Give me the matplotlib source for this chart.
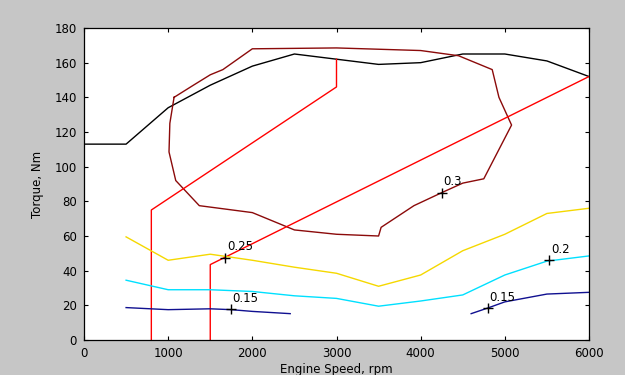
import matplotlib
matplotlib.use("Agg")
import matplotlib.pyplot as plt

# Maximum torque curve
max_rpm = [0, 500, 1000, 1500, 2000, 2500, 3000, 3500, 4000, 4500, 5000, 5500, 6000]
max_tq = [113, 113, 134, 147, 158, 165, 162, 159, 160, 165, 165, 161, 152]

# Closed 0.3 efficiency island
loop_rpm = [1070, 1300, 1500, 1650, 2000, 3000, 4000, 4450, 4850, 4930, 5080,
            4750, 4500, 4250, 3920, 3530, 3500, 3000, 2500, 2000, 1370, 1090,
            1010, 1020, 1070]
loop_tq = [140, 147, 153, 156, 168, 168.5, 167, 164, 156, 140, 124,
           93, 90.5, 85, 77.5, 65, 60, 61, 63.5, 73.5, 77.5, 92,
           108.5, 125, 140]

# Red operating lines
red1_rpm = [800, 800, 3000, 3000]
red1_tq = [0, 75, 146, 162]
red2_rpm = [1500, 1500, 6000]
red2_tq = [0, 43.5, 152]

# 0.25 contour (yellow)
yel_rpm = [500, 1000, 1500, 2000, 2500, 3000, 3500, 4000, 4500, 5000, 5500, 6000]
yel_tq = [59.5, 46, 49.5, 46, 42, 38.5, 31, 37.5, 51.5, 61, 73, 76]

# 0.2 contour (cyan)
cyan_rpm = [500, 1000, 1500, 2000, 2500, 3000, 3500, 4000, 4500, 5000, 5500, 6000]
cyan_tq = [34.5, 29, 29, 28, 25.5, 24, 19.5, 22.5, 26, 37.5, 45.5, 48.5]

# 0.15 contour (navy), two pieces
navy1_rpm = [500, 1000, 1500, 1750, 2000, 2450]
navy1_tq = [18.7, 17.5, 18, 17.5, 16.5, 15.2]
navy2_rpm = [4600, 4800, 5000, 5500, 6000]
navy2_tq = [15.2, 18.5, 22, 26.5, 27.5]

# Contour labels
lab_rpm = [4250, 1680, 5530, 1750, 4800]
lab_tq = [85, 47.5, 46, 17.8, 18.5]
lab_txt = ["0.3", "0.25", "0.2", "0.15", "0.15"]

xticks = [0, 1000, 2000, 3000, 4000, 5000, 6000]
yticks = [0, 20, 40, 60, 80, 100, 120, 140, 160, 180]

plt.rcParams['font.family'] = ['DejaVu Sans']
fig = plt.figure(figsize=(6.25, 3.75), dpi=100, facecolor='#c6c6c6')
ax = fig.add_axes([84 / 625, 1 - 340 / 375, (589 - 84) / 625, (340 - 28) / 375])
ax.set_facecolor('white')

lw = 1.0
ax.plot(max_rpm, max_tq, color='black', lw=lw)
ax.plot(loop_rpm, loop_tq, color='#8b0a0a', lw=lw)
ax.plot(red1_rpm, red1_tq, color='#ff0000', lw=lw)
ax.plot(red2_rpm, red2_tq, color='#ff0000', lw=lw)
ax.plot(yel_rpm, yel_tq, color='#f5d800', lw=lw)
ax.plot(cyan_rpm, cyan_tq, color='#00e0ff', lw=lw)
ax.plot(navy1_rpm, navy1_tq, color='#101090', lw=lw)
ax.plot(navy2_rpm, navy2_tq, color='#101090', lw=lw)

ax.plot(lab_rpm, lab_tq, linestyle='none', marker='+', color='black',
        markersize=7, markeredgewidth=1.0)
for x, y, t in zip(lab_rpm, lab_tq, lab_txt):
    ax.annotate(t, (x, y), xytext=(1, 3), textcoords='offset points',
                ha='left', va='bottom', fontsize=8.5, color='black')

ax.set_xlim(0, 6000)
ax.set_ylim(0, 180)
ax.set_xticks(xticks)
ax.set_yticks(yticks)
ax.tick_params(direction='in', length=3, width=0.8, top=True, right=True,
               labelsize=8.5, pad=5)
for s in ax.spines.values():
    s.set_linewidth(0.9)
ax.set_xlabel('Engine Speed, rpm', fontsize=8.5, labelpad=2)
ax.set_ylabel('Torque, Nm', fontsize=8.5, labelpad=8)

fig.savefig('out.png', dpi=100, facecolor=fig.get_facecolor())
